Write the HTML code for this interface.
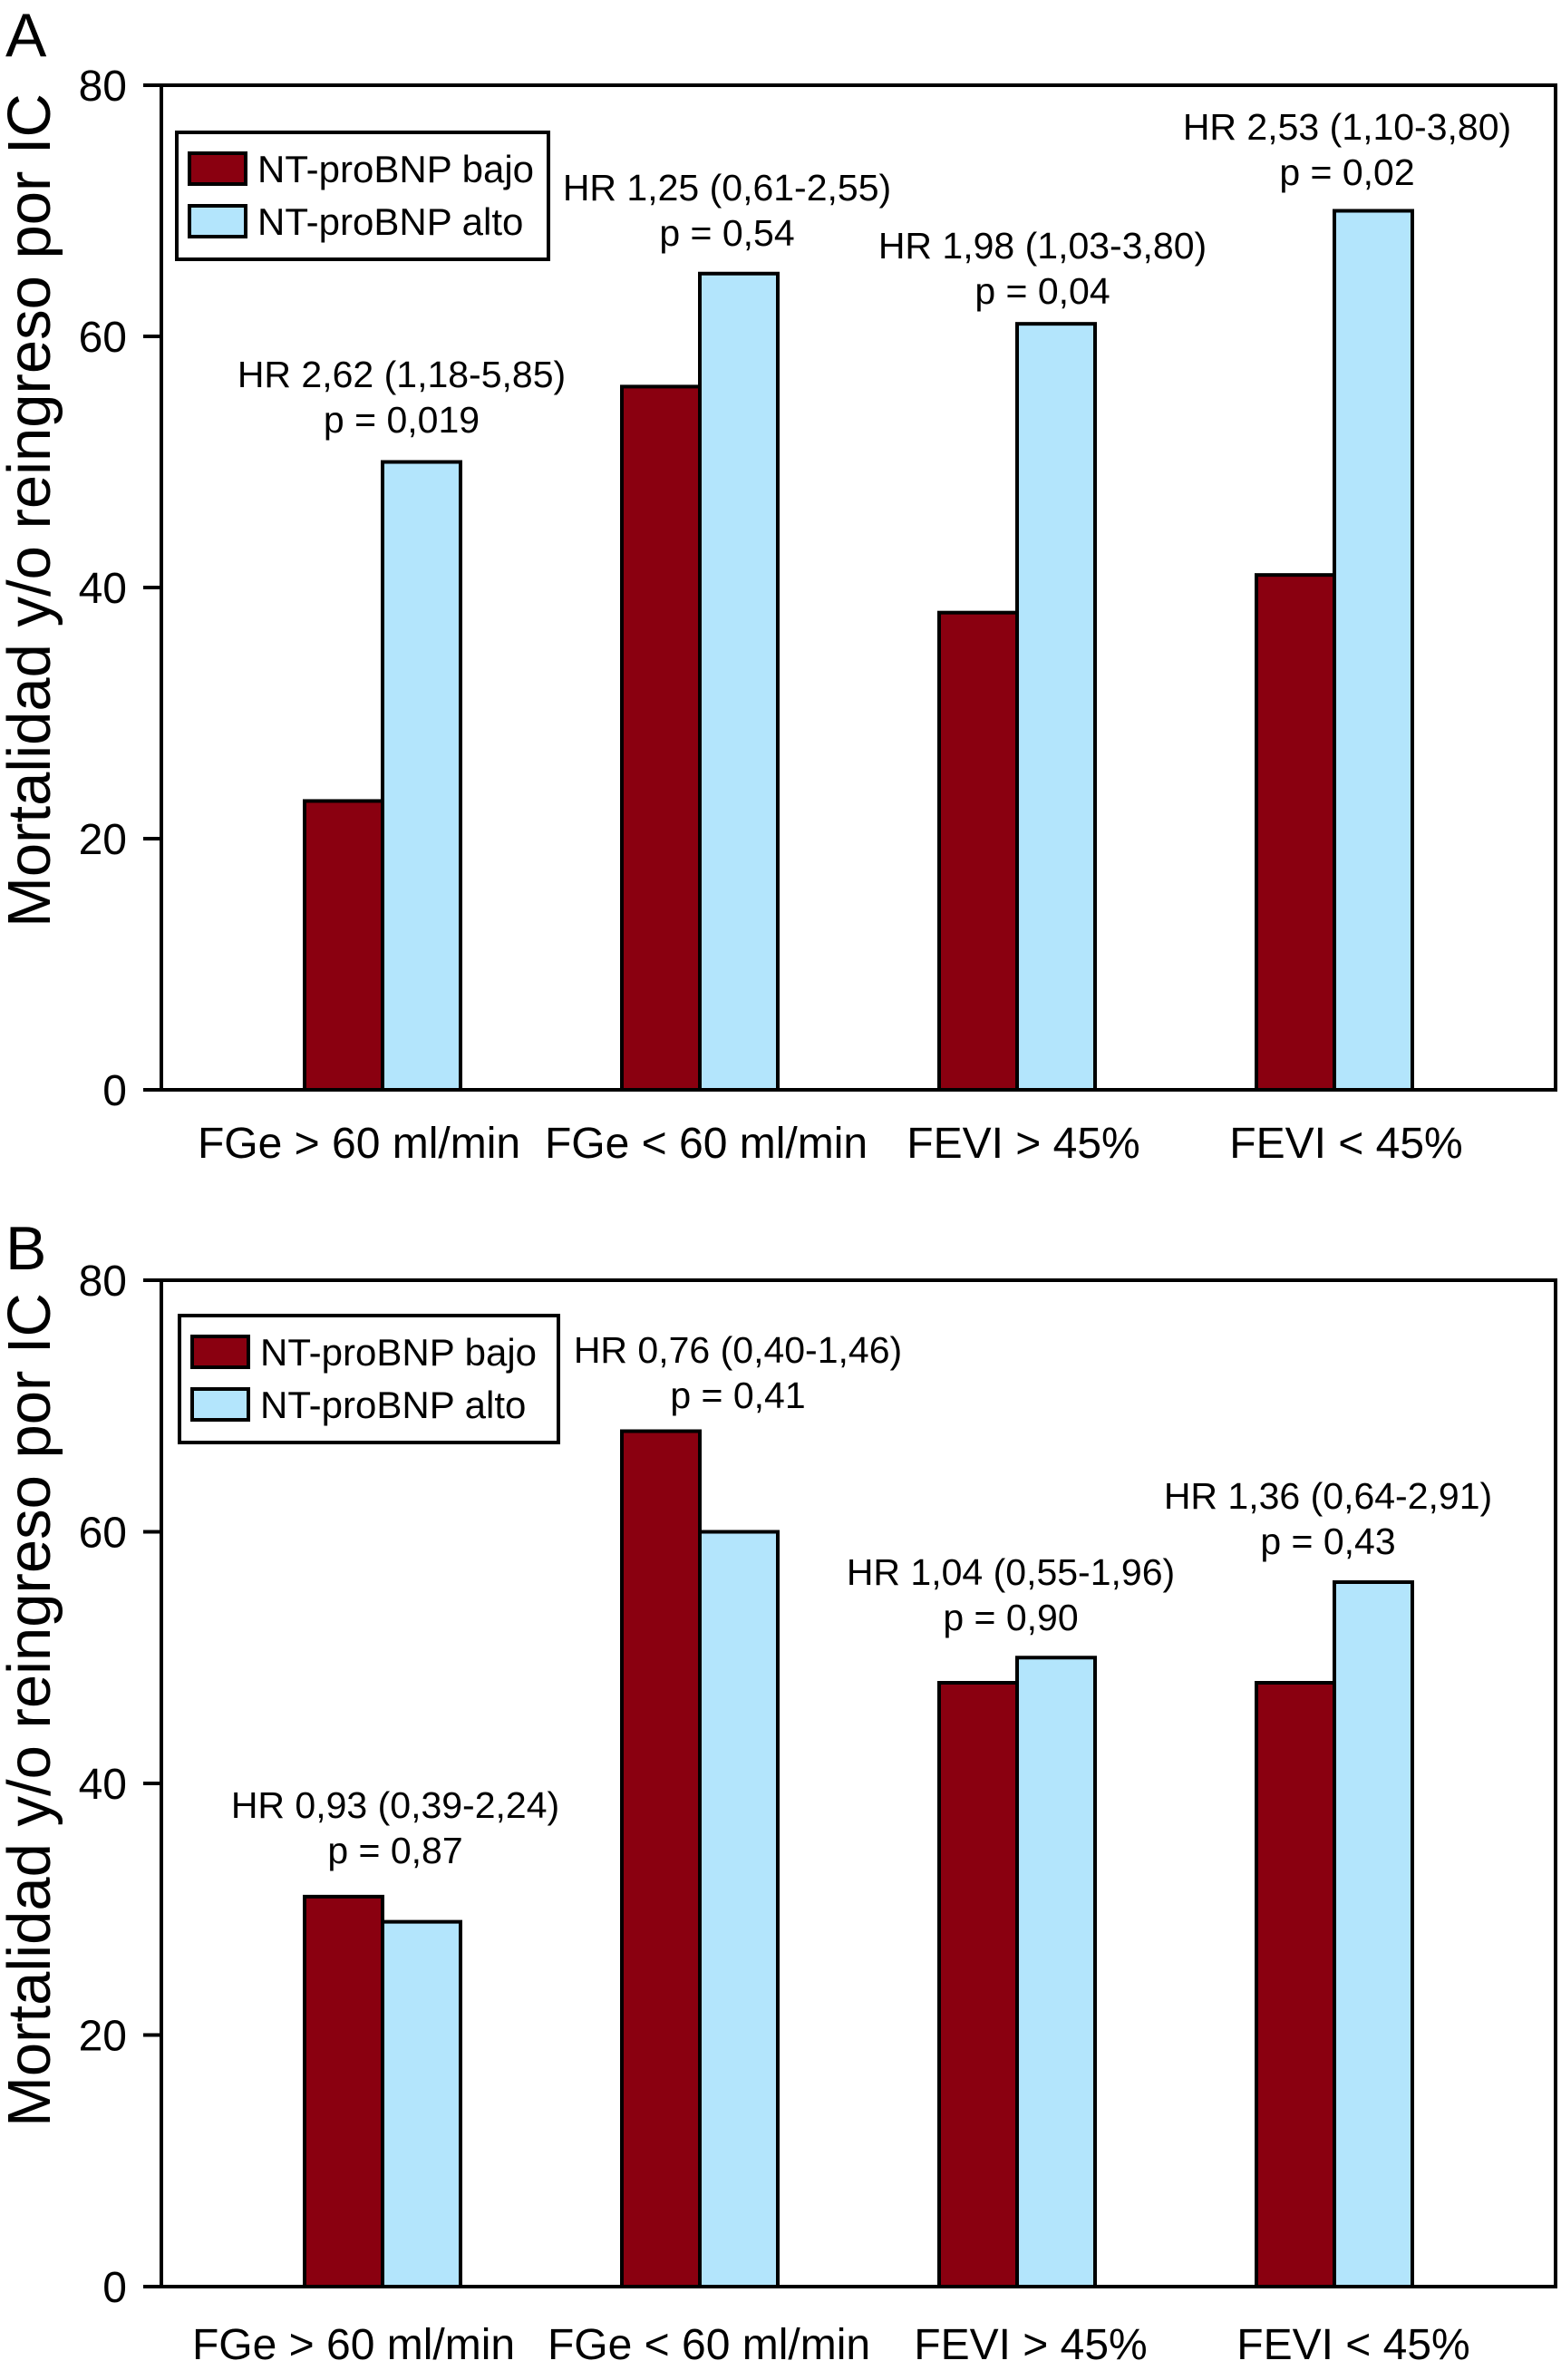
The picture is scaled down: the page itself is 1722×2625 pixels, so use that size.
<!DOCTYPE html>
<html><head><meta charset="utf-8"><style>
html,body{margin:0;padding:0;background:#fff;}
svg{display:block;font-family:"Liberation Sans",Arial,sans-serif;}
</style></head><body>
<svg id="chart" width="1722" height="2625" viewBox="0 0 1722 2625" xmlns="http://www.w3.org/2000/svg"></svg>
<script>
const categoriesA = ["FGe > 60 ml/min","FGe < 60 ml/min","FEVI > 45%","FEVI < 45%"];
const categoriesB = ["FGe > 60 ml/min","FGe < 60 ml/min","FEVI > 45%","FEVI < 45%"];
const bajoA = [23,56,38,41];
const altoA = [50,65,61,70];
const bajoB = [31,68,48,48];
const altoB = [29,60,50,56];
const hrA = ["HR 2,62 (1,18-5,85)","HR 1,25 (0,61-2,55)","HR 1,98 (1,03-3,80)","HR 2,53 (1,10-3,80)"];
const pA = ["p = 0,019","p = 0,54","p = 0,04","p = 0,02"];
const hrB = ["HR 0,93 (0,39-2,24)","HR 0,76 (0,40-1,46)","HR 1,04 (0,55-1,96)","HR 1,36 (0,64-2,91)"];
const pB = ["p = 0,87","p = 0,41","p = 0,90","p = 0,43"];
const yTicks = [0,20,40,60,80];
const legendLabels = ["NT-proBNP bajo","NT-proBNP alto"];

const NS="http://www.w3.org/2000/svg";
const svg=document.getElementById('chart');
function mk(tag,attrs,parent){const e=document.createElementNS(NS,tag);for(const k in attrs)e.setAttribute(k,attrs[k]);(parent||svg).appendChild(e);return e;}
const RED="#8a0010", BLUE="#b3e5fc";

function panel(cfg){
  const g=mk('g',{});
  
  
  const x0=178,x1=1716,yb=cfg.y0,yt=cfg.y80;
  const y=v=>yb-(v/80)*(yb-yt);
  const gx=i=>336+i*350;
  const bw=86;
  const L=mk('text',{x:6,y:cfg.letterY,'font-size':68},g);L.textContent=cfg.id;
  
  
  for(let i=0;i<4;i++){
    const r=mk('rect',{x:gx(i),y:y(cfg.bajo[i]),width:bw,height:yb-y(cfg.bajo[i]),fill:RED,stroke:'#000','stroke-width':4},g);
    
    
    const b=mk('rect',{x:gx(i)+bw,y:y(cfg.alto[i]),width:bw,height:yb-y(cfg.alto[i]),fill:BLUE,stroke:'#000','stroke-width':4},g);
    
    
    const c=mk('text',{x:cfg.catX[i],y:cfg.catY,'font-size':48,'text-anchor':'middle'},g);c.textContent=cfg.cats[i];
    
    
    const h=mk('text',{x:cfg.annX[i],y:cfg.annY[i],'font-size':41,'text-anchor':'middle'},g);h.textContent=cfg.hr[i];
    
    
    const p=mk('text',{x:cfg.annX[i],y:cfg.annY[i]+50,'font-size':41,'text-anchor':'middle'},g);p.textContent=cfg.p[i];
    
    
  }
  const f=mk('rect',{x:x0,y:yt,width:x1-x0,height:yb-yt,fill:'none',stroke:'#000','stroke-width':4},g);
  
  
  yTicks.forEach(t=>{
    const tk=mk('line',{x1:158,x2:x0,y1:y(t),y2:y(t),stroke:'#000','stroke-width':4},g);
    
    
    const tl=mk('text',{x:140,y:y(t)+17,'font-size':48,'text-anchor':'end'},g);tl.textContent=t;
    
    
  });
  const yt2=mk('text',{x:0,y:0,'font-size':67,'text-anchor':'middle',transform:`translate(55,${cfg.titleY}) rotate(-90)`},g);
  yt2.textContent="Mortalidad y/o reingreso por IC";
  
  
  const lg=mk('g',{},g);
  
  
  const lb=cfg.leg;
  mk('rect',{x:lb.x,y:lb.y,width:lb.w,height:lb.h,fill:'#fff',stroke:'#000','stroke-width':4},lg);
  [RED,BLUE].forEach((col,k)=>{
    const sw=mk('rect',{x:lb.x+14,y:lb.y+23+k*58,width:62,height:34,fill:col,stroke:'#000','stroke-width':4},lg);
    
    
    const tx=mk('text',{x:lb.x+89,y:lb.y+55+k*58,'font-size':42},lg);tx.textContent=legendLabels[k];
    
    
  });
}
panel({id:'A',y0:1202,y80:94,letterY:62,bajo:bajoA,alto:altoA,cats:categoriesA,hr:hrA,p:pA,
  catX:[396,779,1129,1485],catY:1277,annX:[443,802,1150,1486],annY:[427,221,285,154],titleY:563,
  leg:{x:195,y:146,w:410,h:140}});
panel({id:'B',y0:2522,y80:1412,letterY:1400,bajo:bajoB,alto:altoB,cats:categoriesB,hr:hrB,p:pB,
  catX:[390,782,1137,1493],catY:2602,annX:[436,814,1115,1465],annY:[2005,1503,1748,1664],titleY:1886,
  leg:{x:198,y:1451,w:418,h:140}});
</script>
</body></html>
